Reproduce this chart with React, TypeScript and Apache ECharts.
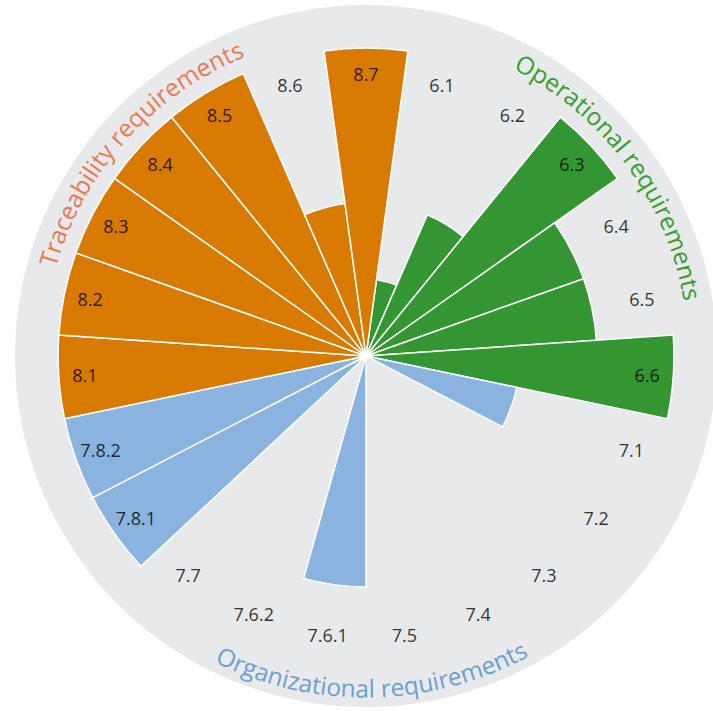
import React, { useEffect, useRef } from "react";
import * as echarts from "echarts";

// ---- Data ----
const CATEGORIES = [
  "6.1", "6.2", "6.3", "6.4", "6.5", "6.6",
  "7.1", "7.2", "7.3", "7.4", "7.5", "7.6.1", "7.6.2", "7.7", "7.8.1", "7.8.2",
  "8.1", "8.2", "8.3", "8.4", "8.5", "8.6", "8.7",
];
const VALUES = [
  1, 2, 4, 3, 3, 4,
  2, 0, 0, 0, 0, 3, 0, 0, 4, 4,
  4, 4, 4, 4, 4, 2, 4,
];
const GROUP_NAMES = [
  "Operational requirements",
  "Organizational requirements",
  "Traceability requirements",
];
const GROUP_MEMBERS = [
  ["6.1", "6.2", "6.3", "6.4", "6.5", "6.6"],
  ["7.1", "7.2", "7.3", "7.4", "7.5", "7.6.1", "7.6.2", "7.7", "7.8.1", "7.8.2"],
  ["8.1", "8.2", "8.3", "8.4", "8.5", "8.6", "8.7"],
];
const GROUP_BAR_COLORS = ["#349632", "#8ab3e0", "#d97a00"];
const GROUP_TITLE_COLORS = ["#379d2d", "#6d9ed4", "#ec7852"];

// ---- Layout constants ----
const W = 713;
const H = 711;
const CX = 366;
const CY = 356;
const OUTER_R = 351;
const AXIS_MAX = 4.56;
const LABEL_R = 3.66; // radius (data units) of the category label ring
const TITLE_R = 332; // px, radius of glyph centres
const TITLE_BASELINE_OFFSET = 11; // px, glyph centre to baseline
const TITLE_FONT_SIZE = 24.5;
const TITLE_ANGLE_SHIFT = -1.1; // deg, clockwise-positive
const FONT = "'Open Sans', 'Noto Sans', sans-serif";

const STEP = 360 / CATEGORIES.length;
const START_ANGLE = 90 - STEP / 2;

function groupIndexOf(cat: string): number {
  return GROUP_MEMBERS.findIndex((m) => m.includes(cat));
}

function buildTitles(): any[] {
  const ctx = document.createElement("canvas").getContext("2d")!;
  ctx.font = `${TITLE_FONT_SIZE}px ${FONT}`;
  const els: any[] = [];
  GROUP_NAMES.forEach((name, g) => {
    const idxs = GROUP_MEMBERS[g].map((c) => CATEGORIES.indexOf(c));
    const angs = idxs.map((i) => (90 - START_ANGLE) + (i + 0.5) * STEP);
    const centerDeg =
      angs.reduce((a, b) => a + b, 0) / angs.length + TITLE_ANGLE_SHIFT;
    const thetaC = (centerDeg * Math.PI) / 180;
    const bottom = Math.abs(centerDeg - 180) < 90;
    const baseR = bottom
      ? TITLE_R + TITLE_BASELINE_OFFSET
      : TITLE_R - TITLE_BASELINE_OFFSET;
    const total = ctx.measureText(name).width;
    for (let k = 0; k < name.length; k++) {
      const ch = name[k];
      if (ch === " ") continue;
      const pre = ctx.measureText(name.slice(0, k)).width;
      const cw = ctx.measureText(ch).width;
      const d = pre + cw / 2 - total / 2;
      const dTheta = d / baseR;
      const theta = bottom ? thetaC - dTheta : thetaC + dTheta;
      const rotation = bottom ? Math.PI - theta : -theta;
      els.push({
        type: "text",
        x: CX + TITLE_R * Math.sin(theta),
        y: CY - TITLE_R * Math.cos(theta),
        rotation,
        silent: true,
        z: 100,
        style: {
          text: ch,
          fontSize: TITLE_FONT_SIZE,
          fontFamily: FONT,
          fill: GROUP_TITLE_COLORS[g],
          align: "center",
          verticalAlign: "middle",
        },
      });
    }
  });
  return els;
}

export default function App() {
  const ref = useRef<HTMLDivElement>(null);
  useEffect(() => {
    if (!ref.current) return;
    const chart = echarts.init(ref.current, undefined, { renderer: "svg" });
    const option: any = {
      animation: false,
      backgroundColor: "#ffffff",
      polar: { center: [CX, CY], radius: [0, OUTER_R] },
      angleAxis: {
        type: "category",
        data: CATEGORIES,
        startAngle: START_ANGLE,
        clockwise: true,
        axisLine: { show: false },
        axisTick: { show: false },
        axisLabel: { show: false },
        splitLine: { show: false },
      },
      radiusAxis: {
        type: "value",
        min: 0,
        max: AXIS_MAX,
        interval: AXIS_MAX,
        axisLine: { show: false },
        axisTick: { show: false },
        axisLabel: { show: false },
        splitLine: { show: false },
        splitArea: { show: true, areaStyle: { color: ["#e8e9eb"] } },
      },
      series: [
        {
          type: "bar",
          coordinateSystem: "polar",
          barCategoryGap: "0%",
          silent: true,
          data: VALUES.map((v, i) => ({
            value: v,
            itemStyle: {
              color: GROUP_BAR_COLORS[groupIndexOf(CATEGORIES[i])],
              borderColor: "#ffffff",
              borderWidth: v > 0 ? 1.5 : 0,
            },
          })),
        },
        {
          type: "scatter",
          coordinateSystem: "polar",
          silent: true,
          symbol: "circle",
          symbolSize: 1,
          itemStyle: { color: "rgba(0,0,0,0)" },
          data: CATEGORIES.map((c, i) => ({ value: [LABEL_R, i], name: c })),
          label: {
            show: true,
            position: "inside",
            formatter: (p: any) => p.name,
            color: "#000000",
            fontSize: 18,
            fontFamily: FONT,
            textBorderWidth: 0,
          },
          z: 5,
        },
      ],
      graphic: { elements: buildTitles() },
    };
    chart.setOption(option);
    return () => chart.dispose();
  }, []);
  return (
    <div
      ref={ref}
      style={{ position: "fixed", left: 0, top: 0, width: W, height: H }}
    />
  );
}
